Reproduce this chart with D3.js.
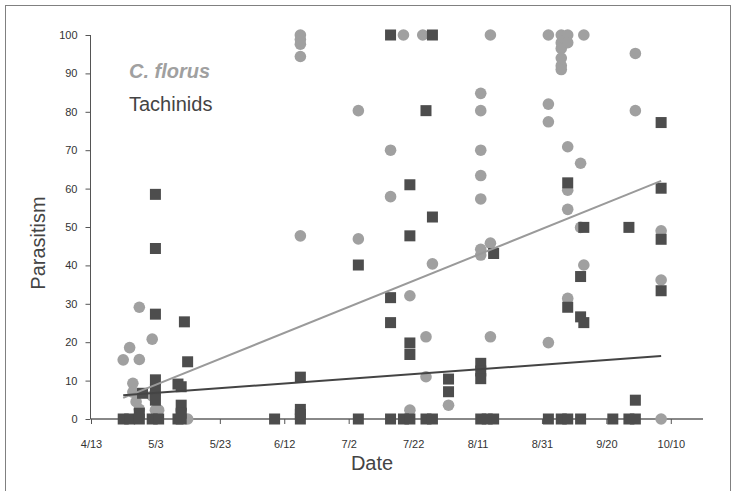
<!DOCTYPE html>
<html>
  <head>
    <meta http-equiv="Content-Type" content="text/html;charset=utf-8"/>
    <script src="https://cdn.jsdelivr.net/npm/d3@7"></script>
    <style>
      body { margin: 0; background: #fff; }
      text { font-family: Arial, "Liberation Sans", sans-serif; }
    </style>
  </head>
  <body>
    <script type="text/javascript">

// dates are month/day, all in one season
var xTicks = ["4/13", "5/3", "5/23", "6/12", "7/2", "7/22", "8/11", "8/31", "9/20", "10/10"];
var yTicks = [0, 10, 20, 30, 40, 50, 60, 70, 80, 90, 100];

// C. florus parasitism (circles)
var florus = [
  ["4/23", 15.4], ["4/25", 18.6], ["4/28", 29.1], ["4/28", 15.5], ["4/26", 9.3], ["4/26", 7],
  ["4/27", 4.5], ["4/28", 2.5], ["5/2", 20.8], ["5/2", 6], ["5/3", 2.3], ["5/4", 2.3],
  ["5/11", 2], ["5/13", 0],
  ["6/17", 100], ["6/17", 98.8], ["6/17", 97.6], ["6/17", 94.4], ["6/17", 47.7],
  ["7/5", 80.3], ["7/5", 46.9], ["7/15", 70], ["7/15", 57.9], ["7/19", 100],
  ["7/21", 32.1], ["7/21", 2.3], ["7/25", 100], ["7/26", 21.4], ["7/26", 11],
  ["7/28", 40.4], ["8/2", 3.6],
  ["8/12", 84.8], ["8/12", 80.3], ["8/12", 70], ["8/12", 63.4], ["8/12", 57.3],
  ["8/12", 44.2], ["8/12", 42.7],
  ["8/15", 100], ["8/15", 45.8], ["8/15", 21.4],
  ["9/2", 100], ["9/2", 82], ["9/2", 77.4], ["9/2", 19.9],
  ["9/6", 100], ["9/6", 98], ["9/6", 96.5], ["9/6", 94], ["9/6", 92], ["9/6", 91],
  ["9/8", 100], ["9/8", 98], ["9/8", 70.9], ["9/8", 59.6], ["9/8", 54.6], ["9/8", 31.4],
  ["9/12", 66.6], ["9/12", 49.9], ["9/13", 100], ["9/13", 40.1],
  ["9/29", 95.2], ["9/29", 80.3],
  ["10/7", 49], ["10/7", 36.2], ["10/7", 0]
];

// Tachinid parasitism (squares)
var tachZeroDates = ["4/23", "4/25", "4/28", "5/2", "5/4", "5/10", "5/11", "6/9", "6/17",
  "7/5", "7/15", "7/19", "7/21", "7/26", "7/28", "8/12", "8/14", "8/16",
  "9/2", "9/6", "9/8", "9/12", "9/22", "9/27", "9/29"];
var tachinids = [
  ["4/28", 1.5], ["4/29", 6.7], ["5/3", 58.5], ["5/3", 44.4], ["5/3", 27.3], ["5/3", 10.2],
  ["5/3", 7.6], ["5/3", 4.9], ["5/10", 9.1], ["5/11", 8.4], ["5/11", 3.6], ["5/11", 1.5],
  ["5/12", 25.3], ["5/13", 14.9], ["6/17", 10.9], ["6/17", 2.5], ["6/17", 1.2],
  ["7/5", 40.1], ["7/15", 100], ["7/15", 31.6], ["7/15", 25.1],
  ["7/21", 61], ["7/21", 47.7], ["7/21", 19.8], ["7/21", 16.8],
  ["7/26", 80.3], ["7/28", 100], ["7/28", 52.6], ["8/2", 10.4], ["8/2", 7.1],
  ["8/12", 14.5], ["8/12", 12.5], ["8/12", 10.5], ["8/16", 43.1],
  ["9/8", 61.5], ["9/8", 29.1], ["9/12", 37.1], ["9/12", 26.6], ["9/13", 49.9], ["9/13", 25.1],
  ["9/27", 49.9], ["9/29", 4.9],
  ["10/7", 77.2], ["10/7", 60.1], ["10/7", 46.8], ["10/7", 33.4]
];

// linear trend lines (end points)
var florusTrend = [["4/23", 5.5], ["10/7", 62]];
var tachTrend = [["4/23", 6.2], ["10/7", 16.4]];

var parse = d3.timeParse("%m/%d/%Y");
function day(s) { return parse(s + "/2001"); }

var w = 733, h = 491;
var svg = d3.select("body").append("svg")
  .attr("width", w)
  .attr("height", h);

// outer frame
svg.append("rect")
  .attr("x", 5.5).attr("y", 5.5)
  .attr("width", 725).attr("height", 500)
  .attr("fill", "none")
  .attr("stroke", "#808080")
  .attr("stroke-width", 1);

var x = d3.scaleTime()
  .domain([day("4/13"), day("10/20")])
  .range([91, 703]);
var y = d3.scaleLinear()
  .domain([0, 100])
  .range([419, 35]);

// y axis
var yAxis = svg.append("g")
  .attr("transform", "translate(90.5,0)")
  .call(d3.axisLeft(y).tickValues(yTicks).tickSize(5).tickPadding(8));
yAxis.select(".domain").attr("stroke", "#555").attr("d", "M0," + y(100) + "V" + y(0));
yAxis.selectAll(".tick line").attr("stroke", "#555");
yAxis.selectAll(".tick text")
  .attr("font-size", 11)
  .attr("font-family", "Arial, 'Liberation Sans', sans-serif")
  .attr("fill", "#333");

// x axis
var xAxis = svg.append("g")
  .attr("transform", "translate(0,419)")
  .call(d3.axisBottom(x).tickValues(xTicks.map(day)).tickSize(5).tickPadding(16)
    .tickFormat(d3.timeFormat("%-m/%-d")));
xAxis.select(".domain").attr("stroke", "#888").attr("stroke-width", 2)
  .attr("d", "M" + x.range()[0] + ",0H" + x.range()[1]);
xAxis.selectAll(".tick line").attr("stroke", "#555");
xAxis.selectAll(".tick text")
  .attr("font-size", 11)
  .attr("font-family", "Arial, 'Liberation Sans', sans-serif")
  .attr("fill", "#333");

// points
var plot = svg.append("g");
plot.selectAll("circle.florus")
  .data(florus)
  .enter().append("circle")
  .attr("class", "florus")
  .attr("cx", function(d) { return x(day(d[0])); })
  .attr("cy", function(d) { return y(d[1]); })
  .attr("r", 5.8)
  .attr("fill", "#a0a0a0");

var sq = 11;
var tachAll = tachZeroDates.map(function(d) { return [d, 0]; }).concat(tachinids);
plot.selectAll("rect.tach")
  .data(tachAll)
  .enter().append("rect")
  .attr("class", "tach")
  .attr("x", function(d) { return x(day(d[0])) - sq / 2; })
  .attr("y", function(d) { return y(d[1]) - sq / 2; })
  .attr("width", sq)
  .attr("height", sq)
  .attr("fill", "#4d4d4d");

// trend lines
var line = d3.line()
  .x(function(d) { return x(day(d[0])); })
  .y(function(d) { return y(d[1]); });
svg.append("path").datum(florusTrend)
  .attr("d", line).attr("fill", "none")
  .attr("stroke", "#9a9a9a").attr("stroke-width", 2);
svg.append("path").datum(tachTrend)
  .attr("d", line).attr("fill", "none")
  .attr("stroke", "#444").attr("stroke-width", 2);

// legend labels
svg.append("text")
  .attr("x", 129).attr("y", 78)
  .attr("font-size", 20).attr("font-weight", "bold").attr("font-style", "italic")
  .attr("fill", "#a0a0a0")
  .text("C. florus");
svg.append("text")
  .attr("x", 129).attr("y", 111)
  .attr("font-size", 20)
  .attr("fill", "#444")
  .text("Tachinids");

// axis titles
svg.append("text")
  .attr("transform", "translate(45,243)rotate(-90)")
  .attr("text-anchor", "middle")
  .attr("font-size", 20)
  .attr("fill", "#444")
  .text("Parasitism");
svg.append("text")
  .attr("x", 372).attr("y", 470)
  .attr("text-anchor", "middle")
  .attr("font-size", 20)
  .attr("fill", "#444")
  .text("Date");

    </script>
  </body>
</html>
